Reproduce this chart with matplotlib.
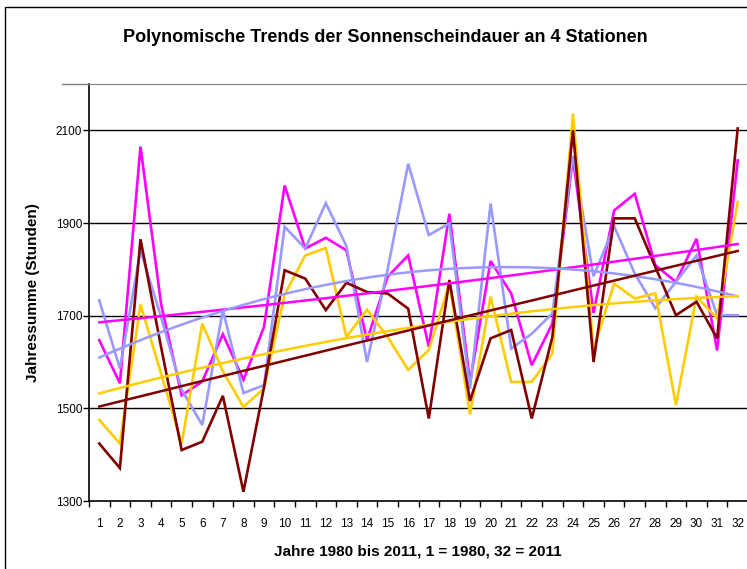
import numpy as np
import matplotlib
matplotlib.use("Agg")
import matplotlib.pyplot as plt
from matplotlib.lines import Line2D
from matplotlib.patches import Rectangle

years = list(range(1, 33))
magenta = [1647, 1554, 2065, 1725, 1528, 1558, 1660, 1562, 1676, 1981,
           1845, 1868, 1841, 1647, 1784, 1830, 1633, 1920, 1556, 1818,
           1748, 1593, 1683, 2040, 1706, 1927, 1963, 1809, 1773, 1866,
           1625, 2035]
blue = [1733, 1586, 1841, 1697, 1540, 1464, 1712, 1533, 1550, 1892,
        1845, 1943, 1850, 1600, 1800, 2028, 1874, 1899, 1542, 1942,
        1629, 1661, 1705, 2045, 1785, 1893, 1791, 1716, 1773, 1830,
        1701, 1701]
gold = [1475, 1424, 1724, 1575, 1424, 1683, 1580, 1503, 1543, 1745,
        1830, 1846, 1654, 1713, 1654, 1583, 1626, 1769, 1487, 1741,
        1557, 1557, 1618, 2136, 1627, 1769, 1737, 1748, 1507, 1741,
        1694, 1945]
maroon = [1424, 1371, 1865, 1632, 1410, 1428, 1527, 1320, 1546, 1798,
          1780, 1712, 1771, 1751, 1748, 1715, 1478, 1777, 1516, 1651,
          1669, 1478, 1654, 2100, 1600, 1910, 1910, 1805, 1701, 1730,
          1651, 2104]
series = [("magenta", magenta, "#FF00FF"), ("blue", blue, "#9999FF"),
          ("gold", gold, "#FFCC00"), ("maroon", maroon, "#800000")]

title = "Polynomische Trends der Sonnenscheindauer an 4 Stationen"
xlabel = "Jahre 1980 bis 2011, 1 = 1980, 32 = 2011"
ylabel = "Jahressumme (Stunden)"
yticks = [1300, 1500, 1700, 1900, 2100]

W, H = 747, 569
fig = plt.figure(figsize=(W / 100, H / 100), dpi=100)
fnt = ['Liberation Sans', 'DejaVu Sans']

# outer chart border
fig.patches.append(Rectangle((5 / W, -0.1), 1.2, 1 - 7 / H + 0.1, transform=fig.transFigure,
                             fill=False, edgecolor='black', linewidth=1.0))

L, R, B, T = 89, 748, 501, 84
ax = fig.add_axes([L / W, (H - B) / H, (R - L) / W, (B - T) / H])
x = np.array(years)
for i, (name, vals, col) in enumerate(series):
    ax.plot(x, vals, color=col, lw=1.9, zorder=3 + i, solid_joinstyle='miter')
for i, (name, vals, col) in enumerate(series):
    c = np.polyfit(x, vals, 2)
    xx = np.linspace(1, 32, 200)
    ax.plot(xx, np.polyval(c, xx), color=col, lw=1.8, zorder=8 + i)

ax.set_xlim(0.5, 32.5)
ax.set_ylim(1300, 2200)
ax.set_yticks(yticks)
ax.set_yticklabels([str(v) for v in yticks], family=fnt, fontsize=8.5)
for v in yticks[1:]:
    ax.axhline(v, color='black', lw=1.0, zorder=1)
ax.set_xticks(x)
ax.set_xticklabels([str(v) for v in years], family=fnt, fontsize=8.5)
ax.set_xticks(np.arange(0.5, 33, 1), minor=True)
ax.tick_params(axis='x', which='major', length=0, pad=12)
ax.tick_params(axis='x', which='minor', length=4, width=1, direction='out')
ax.tick_params(axis='y', which='major', length=4, width=1, direction='out', pad=1)
ax.spines['right'].set_visible(False)
ax.spines['top'].set_color('#808080')
ax.spines['left'].set_linewidth(1.2)
ax.spines['bottom'].set_linewidth(1.2)
fig.add_artist(Line2D([62 / W, L / W], [(H - T) / H, (H - T) / H], color='#808080', lw=1.0))

fig.text(385 / W, 1 - 38 / H, title, ha='center', va='center', fontsize=13,
         fontweight='bold', family=fnt)
fig.text(418 / W, 1 - 552 / H, xlabel, ha='center', va='center', fontsize=11,
         fontweight='bold', family=fnt)
fig.text(33 / W, 1 - 293 / H, ylabel, ha='center', va='center', fontsize=11,
         fontweight='bold', family=fnt, rotation=90)

fig.savefig("out.png", dpi=100)
